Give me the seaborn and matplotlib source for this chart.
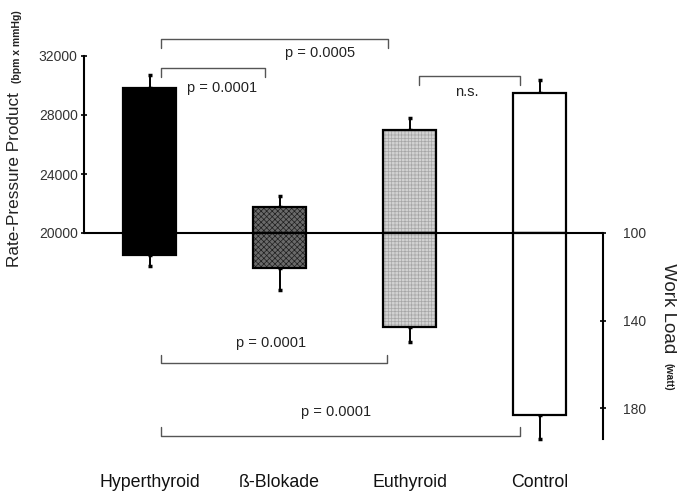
import numpy as np
import pandas as pd
import seaborn as sns
import matplotlib.pyplot as plt
from matplotlib.patches import Rectangle

# ---- data ----
groups = ["Hyperthyroid", "ß-Blokade", "Euthyroid", "Control"]
rpp = [29830, 21760, 26980, 29490]          # rate-pressure product (bpm x mmHg)
rpp_sd = [880, 750, 820, 880]
workload = [110, 116, 143, 183]             # work load (watt)
workload_sd = [5, 10, 7, 11]
rpp_base = 20000
wl_base = 100
rpp_ticks = [20000, 24000, 28000, 32000]
wl_ticks = [100, 140, 180]

sns.set_theme(style="white")
plt.rcParams['font.family'] = ['Liberation Sans', 'DejaVu Sans']
plt.rcParams['hatch.linewidth'] = 0.5

W, H = 677, 491
fig = plt.figure(figsize=(W / 100, H / 100), dpi=100)
L, R, T, B = 84, 603, 20, 450
ax = fig.add_axes([L / W, 1 - B / H, (R - L) / W, (B - T) / H])
ax2 = ax.twinx()

df = pd.DataFrame({
    "group": groups,
    "rpp_h": np.array(rpp) - rpp_base,
    "wl_h": np.array(workload) - wl_base,
})
palette = {"Hyperthyroid": "black", "ß-Blokade": "#6a6a6a",
           "Euthyroid": "#d2d2d2", "Control": "white"}
hatch_col = {"ß-Blokade": ("xxxxxx", "#1e1e1e"), "Euthyroid": ("+++++", "#a6a6a6")}

bw = 0.41
sns.barplot(data=df, x="group", y="rpp_h", hue="group", palette=palette,
            order=groups, hue_order=groups, bottom=rpp_base, width=bw,
            errorbar=None, saturation=1, legend=False, ax=ax,
            edgecolor="black", linewidth=1.6, zorder=2)
sns.barplot(data=df, x="group", y="wl_h", hue="group", palette=palette,
            order=groups, hue_order=groups, bottom=wl_base, width=bw,
            errorbar=None, saturation=1, legend=False, ax=ax2,
            edgecolor="black", linewidth=1.6, zorder=2)

for a in (ax, ax2):
    for g, p in zip(groups, list(a.patches)[:len(groups)]):
        if g in hatch_col:
            h, c = hatch_col[g]
            p.set_hatch(h)
            p.set_edgecolor(c)
            p.set_linewidth(0)
            a.add_patch(Rectangle((p.get_x(), p.get_y()), p.get_width(), p.get_height(),
                                  fill=False, edgecolor="black", linewidth=1.6, zorder=3))

pos = np.arange(len(groups))
zeros = np.zeros(len(groups))
ax.errorbar(pos, rpp, yerr=[zeros, rpp_sd], fmt="none", ecolor="black",
            elinewidth=1.4, capsize=1.6, capthick=2.5, zorder=1)
ax2.errorbar(pos, workload, yerr=[zeros, workload_sd], fmt="none", ecolor="black",
             elinewidth=1.4, capsize=1.6, capthick=2.5, zorder=1)

# scales
px_per_k = 14.75     # pixels per 1000 rpp
px_per_w = 2.1875    # pixels per watt
y0 = 233
ax.set_ylim(rpp_base - (B - y0) / px_per_k * 1000, rpp_base + (y0 - T) / px_per_k * 1000)
ax2.set_ylim(wl_base + (B - y0) / px_per_w, wl_base - (y0 - T) / px_per_w)
ax.set_xlim(-(149.5 - L) / 130, (R - 149.5) / 130)

ax.axhline(rpp_base, color="black", lw=1.5, zorder=5)

# spines and ticks
for s in ["top", "bottom", "right"]:
    ax.spines[s].set_visible(False)
for s in ["top", "bottom", "left"]:
    ax2.spines[s].set_visible(False)
ax.spines["left"].set_bounds(rpp_ticks[0], rpp_ticks[-1])
ax.spines["left"].set_linewidth(1.5)
ax.spines["left"].set_color("black")
ax2.spines["right"].set_bounds(wl_base, max(np.array(workload) + np.array(workload_sd)))
ax2.spines["right"].set_linewidth(1.5)
ax2.spines["right"].set_color("black")

ax.set_yticks(rpp_ticks)
ax.set_yticklabels([str(t) for t in rpp_ticks])
ax.tick_params(axis="y", left=True, direction="inout", length=5, width=1.2,
               pad=2, labelsize=10, labelcolor="#333333", color="black")
ax2.set_yticks(wl_ticks)
ax2.set_yticklabels([str(t) for t in wl_ticks])
ax2.tick_params(axis="y", right=True, direction="inout", length=5, width=1.2,
                pad=12, labelsize=10, labelcolor="#333333", color="black")

ax.set_xticks(pos)
ax.set_xticklabels(groups)
ax.tick_params(axis="x", bottom=False, length=0, pad=17, labelsize=12.8, labelcolor="#111111")
ax.set_xlabel("")
ax.set_ylabel("")
ax2.set_ylabel("")
ax2.set_xlabel("")

# axis titles
fig.text(15 / W, 1 - 180 / H, "Rate-Pressure Product", rotation=90, ha="center",
         va="center", fontsize=12.3, color="#222222")
fig.text(17 / W, 1 - 47 / H, "(bpm x mmHg)", rotation=90, ha="center",
         va="center", fontsize=7.5, fontweight="bold", color="#222222")
fig.text(669 / W, 1 - 308 / H, "Work Load", rotation=-90, ha="center",
         va="center", fontsize=13.5, color="#222222")
fig.text(668 / W, 1 - 377 / H, "(watt)", rotation=-90, ha="center",
         va="center", fontsize=7.5, fontweight="bold", color="#222222")

# significance brackets
bc = "#555555"
def bracket(a, x1, x2, yb, yt, text, tx, ty):
    a.plot([x1, x1, x2, x2], [yt, yb, yb, yt], color=bc, lw=1, zorder=4, clip_on=False)
    a.text(tx, ty, text, ha="center", va="center", fontsize=10.5, color="#222222")

bracket(ax, 0.088, 0.888, 31186, 30576, "p = 0.0001", 0.558, 29830)
bracket(ax, 0.088, 1.838, 33153, 32542, "p = 0.0005", 1.31, 32203)
bracket(ax, 2.073, 2.85, 30644, 30034, "n.s.", 2.442, 29559)
bracket(ax2, 0.088, 1.827, 159.4, 155.8, "p = 0.0001", 0.935, 150.3)
bracket(ax2, 0.088, 2.85, 192.8, 188.7, "p = 0.0001", 1.435, 181.8)

fig.savefig("out.png", dpi=100)
